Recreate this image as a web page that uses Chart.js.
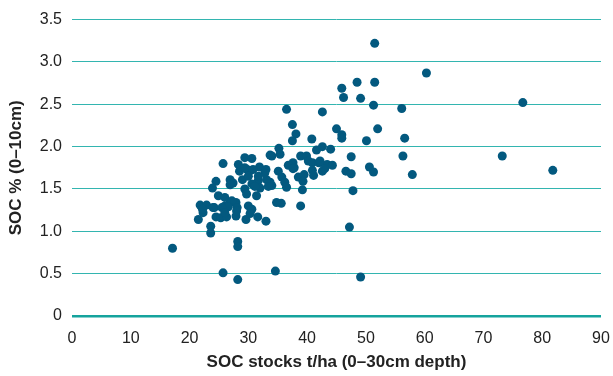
<!DOCTYPE html>
<html>
<head>
<meta charset="utf-8">
<script src="https://cdn.jsdelivr.net/npm/chart.js@4/dist/chart.umd.min.js"></script>
<style>
  html, body { margin: 0; padding: 0; background: #ffffff; }
  #wrap { width: 613px; height: 376px; position: relative; }
</style>
</head>
<body>
<div id="wrap"><canvas id="c" width="613" height="376"></canvas></div>
<script>
// SOC stocks t/ha (0-30cm depth)
const socStocks = [
  17.1, 25.7, 28.2, 28.2, 28.2, 34.6, 49.1, 47.2, 51.5, 48.5,
  51.5, 45.9, 46.2, 49.1, 51.3, 36.5, 42.6, 37.5, 38.1, 37.5,
  40.8, 45.0, 45.9, 45.9, 52.0, 50.1, 35.2, 41.6, 42.6, 44.0,
  34.0, 35.4, 38.9, 39.9, 40.2, 47.5, 37.6, 36.8, 37.8, 40.9,
  42.0, 43.4, 44.3, 42.6, 43.0, 40.9, 41.1, 38.5, 39.5, 39.3,
  46.6, 47.5, 50.6, 51.3, 35.1, 35.7, 36.2, 36.5, 34.0, 33.7,
  39.2, 47.8, 35.6, 38.9, 33.0, 60.3, 56.1, 76.7, 56.6, 56.3,
  73.2, 57.9, 81.8, 23.6, 23.6, 21.5, 22.3, 21.8, 22.9, 24.2,
  24.5, 25.3, 26.3, 26.0, 26.9, 27.9, 27.9, 29.6, 30.0, 30.6,
  31.6, 25.7, 24.5, 23.9, 29.4, 30.6, 28.3, 28.5, 29.8, 26.9,
  27.4, 29.0, 30.2, 31.9, 33.0, 33.7, 31.7, 33.1, 30.6, 29.4,
  29.7, 32.0, 33.4, 31.4, 24.9, 26.0, 27.2, 26.6, 25.5, 22.2,
  24.0, 28.1, 30.3, 34.8, 29.4, 30.8, 32.8, 26.9, 30.0, 31.1,
  31.7, 28.0, 26.0, 37.6, 42.2
];
// SOC % (0-10cm)
const socPercent = [
  0.80, 0.51, 0.43, 0.88, 0.82, 0.53, 0.46, 1.05, 3.22, 2.76,
  2.76, 2.69, 2.58, 2.57, 2.49, 2.44, 2.41, 2.26, 2.15, 2.07,
  2.09, 2.21, 2.14, 2.10, 2.21, 2.07, 1.98, 1.96, 2.00, 1.97,
  1.89, 1.91, 1.89, 1.89, 1.83, 1.88, 1.81, 1.78, 1.75, 1.81,
  1.81, 1.79, 1.78, 1.71, 1.74, 1.72, 1.66, 1.64, 1.67, 1.59,
  1.71, 1.68, 1.76, 1.70, 1.71, 1.64, 1.58, 1.52, 1.54, 1.58,
  1.49, 1.48, 1.33, 1.30, 1.12, 2.87, 2.45, 2.52, 2.10, 1.89,
  1.89, 1.67, 1.72, 1.06, 0.98, 1.14, 1.22, 1.31, 1.31, 1.28,
  1.17, 1.16, 1.17, 1.30, 1.34, 1.34, 1.18, 1.14, 1.30, 1.26,
  1.17, 1.80, 1.59, 1.51, 1.87, 1.86, 1.79, 1.71, 1.73, 1.61,
  1.57, 1.61, 1.71, 1.76, 1.73, 1.90, 1.60, 1.61, 1.56, 1.50,
  1.44, 1.51, 1.53, 1.42, 1.42, 1.40, 1.36, 1.29, 1.28, 1.26,
  1.28, 1.28, 1.21, 1.34, 1.75, 1.73, 1.69, 1.55, 1.65, 1.53,
  1.65, 1.24, 1.22, 1.74, 1.83
];
const xTitle = 'SOC stocks t/ha (0–30cm depth)';
const yTitle = 'SOC % (0–10cm)';

const points = socStocks.map((x, i) => ({ x: x, y: socPercent[i] }));
const FONT = '"Liberation Sans", Arial, Helvetica, sans-serif';

new Chart(document.getElementById('c'), {
  type: 'scatter',
  data: {
    datasets: [{
      data: points,
      backgroundColor: '#03597f',
      borderColor: '#03597f',
      borderWidth: 0,
      pointRadius: 4.5,
      pointHoverRadius: 4.5
    }]
  },
  options: {
    responsive: false,
    animation: false,
    events: [],
    layout: { padding: { top: 16, right: 0, bottom: 0, left: 0 } },
    plugins: { legend: { display: false }, tooltip: { enabled: false } },
    scales: {
      x: {
        type: 'linear',
        min: 0, max: 90,
        grid: { display: false, drawTicks: false },
        border: { display: false },
        ticks: {
          stepSize: 10, autoSkip: false, maxRotation: 0,
          padding: 13, color: '#222222',
          font: { family: FONT, size: 16 }
        },
        title: {
          display: true, text: xTitle, color: '#222222',
          padding: { top: 0, bottom: 3 },
          font: { family: FONT, size: 17, weight: 'bold' }
        },
        afterFit: (s) => { s.height = 60; s.paddingRight = 12; s.paddingLeft = 0; }
      },
      y: {
        type: 'linear',
        min: 0, max: 3.5,
        grid: {
          drawTicks: false,
          color: (ctx) => ctx.tick && ctx.tick.value === 0 ? '#15a39d' : '#33b5b0',
          lineWidth: (ctx) => ctx.tick && ctx.tick.value === 0 ? 2.5 : 1
        },
        border: { display: false },
        ticks: {
          stepSize: 0.5, padding: 10, color: '#222222',
          font: { family: FONT, size: 16 },
          callback: (v) => v === 0 ? '0' : Number(v).toFixed(1)
        },
        title: {
          display: true, text: yTitle, color: '#222222',
          padding: { top: 6, bottom: 0 },
          font: { family: FONT, size: 17, weight: 'bold' }
        },
        afterFit: (s) => { s.width = 72; }
      }
    }
  }
});
</script>
</body>
</html>
